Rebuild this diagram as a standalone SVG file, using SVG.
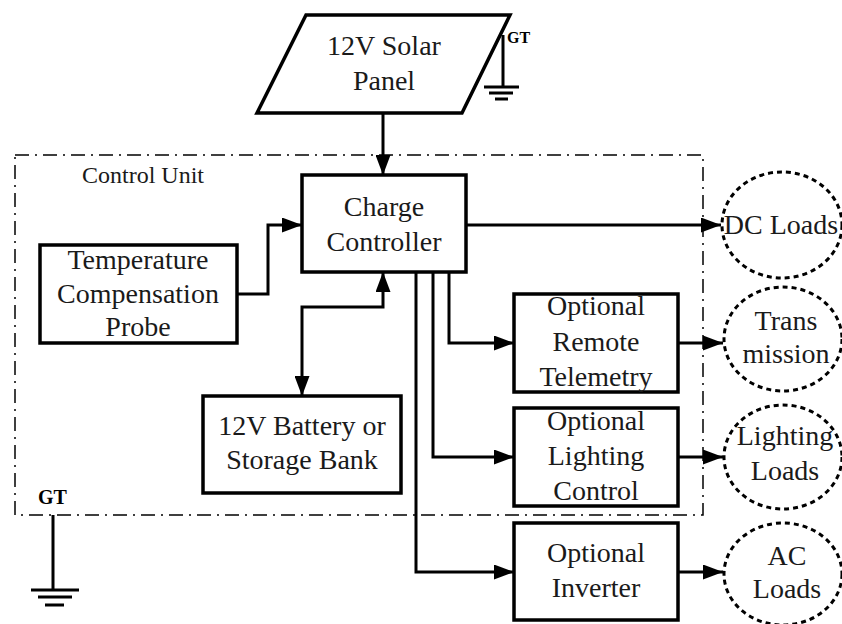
<svg xmlns="http://www.w3.org/2000/svg" width="842" height="624" viewBox="0 0 842 624">
<style>
.box{fill:#fff;stroke:#000;stroke-width:3.5}
.ell{fill:none;stroke:#000;stroke-width:3;stroke-dasharray:5 4}
.wire{fill:none;stroke:#000;stroke-width:3}
.gnd{fill:none;stroke:#000;stroke-width:3}
.t{font-size:28px;text-anchor:middle;fill:#1a1a1a}
.gt{font-weight:bold;fill:#000}
.unit{fill:none;stroke:#000;stroke-width:1.5;stroke-dasharray:14 6 2 6}
</style>
<defs>
<marker id="ah" viewBox="0 0 20 15" refX="20" refY="7.5" markerWidth="20" markerHeight="15" markerUnits="userSpaceOnUse" orient="auto-start-reverse">
<path d="M0,0 L20,7.5 L0,15 z" fill="#000"/>
</marker>
</defs>
<g font-family="Liberation Serif, Times New Roman, serif">
<g id="control-unit">
<rect class="unit" x="15" y="155" width="688" height="360"/>
<text x="82" y="183" font-size="24" fill="#1a1a1a">Control Unit</text>
</g>
<g id="solar-panel">
<polygon class="box" points="306,15 510,15 462,113 257,113"/>
<text class="t" x="384" y="55">12V Solar</text>
<text class="t" x="384" y="90">Panel</text>
</g>
<g id="gt-solar">
<path class="gnd" d="M503,35 V87 M484,87 H519 M489,93 H513 M495,99 H508"/>
<text class="gt" x="507" y="43" font-size="16">GT</text>
</g>
<g id="gt-ground">
<path class="gnd" d="M53,515 V590 M31,590 H79 M38,597 H72 M45,605 H64"/>
<text class="gt" x="38" y="504" font-size="20">GT</text>
</g>
<g id="charge-controller">
<rect class="box" x="302" y="175" width="164" height="97"/>
<text class="t" x="384" y="216">Charge</text>
<text class="t" x="384" y="251">Controller</text>
</g>
<g id="temp-probe">
<rect class="box" x="40" y="245" width="197" height="98"/>
<text class="t" x="138" y="269">Temperature</text>
<text class="t" x="138" y="303">Compensation</text>
<text class="t" x="138" y="336">Probe</text>
</g>
<g id="battery">
<rect class="box" x="203" y="396" width="198" height="97"/>
<text class="t" x="302" y="435">12V Battery or</text>
<text class="t" x="302" y="469">Storage Bank</text>
</g>
<g id="telemetry">
<rect class="box" x="514" y="294" width="164" height="98"/>
<text class="t" x="596" y="315">Optional</text>
<text class="t" x="596" y="351">Remote</text>
<text class="t" x="596" y="386">Telemetry</text>
</g>
<g id="lighting-control">
<rect class="box" x="514" y="408" width="164" height="98"/>
<text class="t" x="596" y="430">Optional</text>
<text class="t" x="596" y="465">Lighting</text>
<text class="t" x="596" y="500">Control</text>
</g>
<g id="inverter">
<rect class="box" x="514" y="523" width="164" height="97"/>
<text class="t" x="596" y="562">Optional</text>
<text class="t" x="596" y="597">Inverter</text>
</g>
<g id="dc-loads">
<ellipse class="ell" cx="782" cy="225" rx="60" ry="53"/>
<text class="t" x="781" y="234">DC Loads</text>
</g>
<g id="transmission">
<ellipse class="ell" cx="783" cy="339" rx="59" ry="52"/>
<text class="t" x="786" y="330">Trans</text>
<text class="t" x="786" y="363">mission</text>
</g>
<g id="lighting-loads">
<ellipse class="ell" cx="783" cy="457" rx="59" ry="52"/>
<text class="t" x="785" y="445">Lighting</text>
<text class="t" x="785" y="480">Loads</text>
</g>
<g id="ac-loads">
<ellipse class="ell" cx="783" cy="574" rx="59" ry="51"/>
<text class="t" x="787" y="565">AC</text>
<text class="t" x="787" y="598">Loads</text>
</g>
</g>
<g id="connectors">
<path class="wire" d="M383,113 V175" marker-end="url(#ah)"/>
<path class="wire" d="M237,294 H268 V225 H302" marker-end="url(#ah)"/>
<path class="wire" d="M302,396 V307 H383 V272" marker-start="url(#ah)" marker-end="url(#ah)"/>
<path class="wire" d="M466,225 H721" marker-end="url(#ah)"/>
<path class="wire" d="M449,272 V343 H514" marker-end="url(#ah)"/>
<path class="wire" d="M433,272 V457 H514" marker-end="url(#ah)"/>
<path class="wire" d="M416,272 V572 H514" marker-end="url(#ah)"/>
<path class="wire" d="M678,343 H723" marker-end="url(#ah)"/>
<path class="wire" d="M678,457 H723" marker-end="url(#ah)"/>
<path class="wire" d="M678,572 H723" marker-end="url(#ah)"/>
</g>
</svg>
